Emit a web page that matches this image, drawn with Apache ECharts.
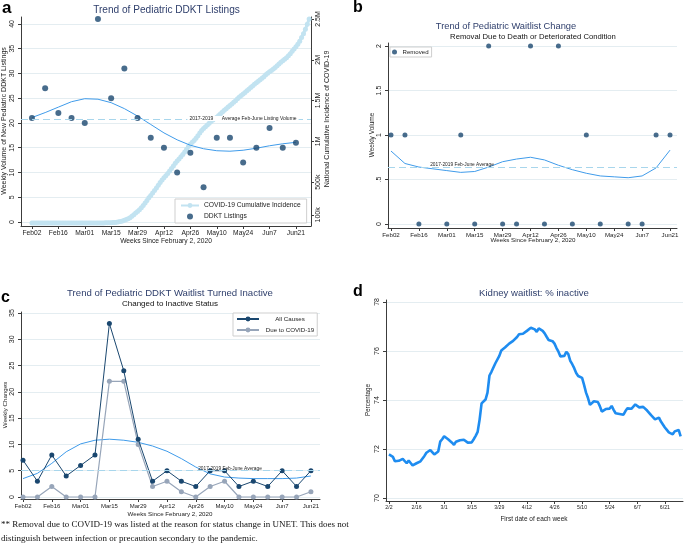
<!DOCTYPE html>
<html><head><meta charset="utf-8">
<script src="https://cdn.jsdelivr.net/npm/echarts@6.0.0/dist/echarts.min.js"></script>
<style>html,body{margin:0;padding:0;background:#fff}#c{width:684px;height:549px}</style>
</head><body><div id="c"></div>
<script>
// ---------- data ----------
const weeks = ['Feb02','Feb09','Feb16','Feb23','Mar01','Mar08','Mar15','Mar22','Mar29','Apr05','Apr12','Apr19','Apr26','May03','May10','May17','May24','May31','Jun7','Jun14','Jun21'];
const weekTicks = [0,2,4,6,8,10,12,14,16,18,20];

// panel a
const ddktListings = [21,27,22,21,20,41,25,31,21,17,15,10,14,7,17,17,12,15,19,15,16];
const ddktLowess = [21.1,22.1,23.2,24.3,24.9,24.8,24.1,22.9,21.4,19.7,18.0,16.6,15.5,14.8,14.4,14.3,14.5,14.9,15.4,15.8,16.1];
const ddktAvg = 20.8;
const ddktTicks = [0,5,10,15,20,25,30,35,40];
// daily national cumulative COVID-19 incidence (thousands), Feb 2 .. Jun 28
const covidCumK = [
 0.01,0.01,0.01,0.01,0.01,0.01,0.01,0.01,0.01,0.01,0.01,0.01,0.02,0.02,0.02,0.02,0.02,0.02,0.02,0.02,0.02,0.02,0.05,0.05,0.05,0.06,0.06,0.06,
 0.07,0.1,0.12,0.15,0.22,0.32,0.43,0.54,0.7,0.96,1.3,1.66,2.2,2.95,3.5,4.6,6.4,9.4,14,19.6,25.6,34,43,53,65,83,101,121,140,161,188,
 214,244,276,309,337,367,397,429,463,496,527,555,580,607,636,667,699,732,759,785,811,840,869,905,938,965,988,1012,1039,1069,
 1103,1133,1158,1180,1201,1222,1243,1262,1280,1297,1316,1338,1359,1381,1400,1421,1440,1458,1478,1499,1521,1543,1563,1582,1600,1619,1639,1660,1680,1700,1718,
 1736,1754,1773,1793,1815,1835,1852,1868,1886,1906,1927,1949,1970,1988,2005,2026,2049,2075,2104,2133,2160,2190,2228,2272,2320,2374,2435,2500];
const covidTicksK = [100,500,1000,1500,2000,2500];
const covidTickLabels = ['100k','500k','1M','1.5M','2M','2.5M'];

// panel b
const removed = [1,1,0,null,0,1,0,2,0,0,2,0,2,0,1,0,null,0,0,1,1];
const removedLowess = [0.82,0.68,0.64,0.62,0.60,0.58,0.59,0.64,0.70,0.73,0.75,0.72,0.66,0.61,0.57,0.54,0.53,0.52,0.54,0.63,0.83];
const removedAvg = 0.635;
const removedTicks = [0,0.5,1,1.5,2];
const removedTickLabels = ['0','.5','1','1.5','2'];

// panel c
const inactiveAll = [7,3,8,4,6,8,33,24,11,3,5,3,2,5,5,2,3,2,5,2,5];
const inactiveCovid = [0,0,2,0,0,0,22,22,10,2,3,1,0,2,3,0,0,0,0,0,1];
const inactiveLowess = [3.5,4.5,6.4,8.6,10.1,10.8,11.0,10.8,10.4,9.7,8.7,7.3,5.7,4.4,3.8,3.6,3.5,3.5,3.5,3.6,4.0];
const inactiveAvg = 5;
const inactiveTicks = [0,5,10,15,20,25,30,35];

// panel d (daily from 2/2)
const kidneyDayTicks = [0,14,28,42,56,70,84,98,112,126,140];
const kidneyDayLabels = ['2/2','2/16','3/1','3/15','3/29','4/12','4/26','5/10','5/24','6/7','6/21'];
const kidneyInactivePct = [
 71.78,71.70,71.68,71.50,71.56,71.52,71.56,71.60,71.52,71.42,
 71.53,71.45,71.33,71.29,71.42,71.46,71.50,71.55,71.72,71.85,
 71.90,71.96,71.90,71.78,71.80,71.90,72.30,72.40,72.52,72.48,
 72.40,72.38,72.26,72.17,72.30,72.38,72.36,72.44,72.38,72.36,
 72.26,72.24,72.27,72.40,72.54,72.70,73.20,73.86,73.90,74.02,
 74.30,75.00,75.15,75.19,75.50,75.53,75.80,76.02,76.10,76.15,
 76.22,76.30,76.38,76.41,76.44,76.57,76.68,76.71,76.70,76.74,
 76.82,76.88,76.95,76.97,76.88,76.78,76.92,76.95,76.82,76.72,
 76.58,76.45,76.41,76.40,76.30,76.12,75.97,75.78,75.71,75.80,
 75.97,75.87,75.60,75.46,75.30,75.10,74.98,75.00,74.90,74.62,
 74.30,74.08,73.80,73.82,73.95,74.02,73.92,73.75,73.53,73.58,
 73.63,73.70,73.65,73.76,73.60,73.46,73.43,73.43,73.42,73.40,
 73.55,73.66,73.60,73.64,73.73,73.82,73.80,73.70,73.72,73.72,
 73.66,73.57,73.50,73.38,73.30,73.21,73.18,73.28,73.12,73.00,
 72.88,72.78,72.68,72.70,72.60,72.72,72.80,72.78,72.52];
const kidneyTicks = [70,72,74,76,78];

// ---------- styles ----------
const FONT = '"Liberation Sans", Arial, sans-serif';
const SERIF = '"Liberation Serif", "DejaVu Serif", serif';
const AX = '#3c3c3c';
const GRIDC = '#e4edf1';
const NAVY = '#1a476f';
const LOW = '#3f9bea';
const AVGC = '#a8d6ec';
const GRAYB = '#97a5b9';
const TITLEC = '#2f3f6c';
const COVIDC = '#c2e3f1';

function xAx(grid, min, max, step, ticks, labels, fs, margin){
  return {gridIndex:grid, type:'value', min, max, minInterval:step, maxInterval:step,
    axisLine:{show:true, onZero:false, lineStyle:{color:AX,width:1}},
    axisTick:{show:true, length:3, lineStyle:{color:AX}, customValues:ticks},
    axisLabel:{customValues:ticks, fontSize:fs, color:'#222', fontFamily:FONT, margin:margin, hideOverlap:false,
      formatter: v => { const i = ticks.findIndex(t => Math.abs(t - v) < 1e-6); return i >= 0 ? labels[i] : ''; }},
    splitLine:{show:false}};
}
function yAx(grid, min, max, step, ticks, labels, fs, margin, split, pos){
  return {gridIndex:grid, type:'value', min, max, minInterval:step, maxInterval:step, position:pos||'left',
    axisLine:{show:true, onZero:false, lineStyle:{color:AX,width:1}},
    axisTick:{show:true, length:3, lineStyle:{color:AX}, customValues:ticks},
    axisLabel:{customValues:ticks, rotate:90, fontSize:fs, color:'#222', fontFamily:FONT, margin:margin, hideOverlap:false,
      formatter: v => { const i = ticks.findIndex(t => Math.abs(t - v) < 1e-6); return i >= 0 ? labels[i] : ''; }},
    splitLine:{show:split, lineStyle:{color:GRIDC, width:1}}};
}
const wk = arr => arr.map((v,i) => v == null ? null : [i, v]).filter(p => p);

function txt(text, x, y, size, opt){
  opt = opt || {};
  return {type:'text', x, y, rotation: opt.rot ? Math.PI/2 : 0, z:100, silent:true,
    style:{text, fontSize:size, fontFamily:opt.font||FONT, fontWeight:opt.bold?'bold':'normal',
      fill:opt.color||'#222', align:opt.align||'center', verticalAlign:opt.valign||'middle',
      textAlign:opt.align||'center', textVerticalAlign:opt.valign||'middle',
      backgroundColor:opt.bg, padding:opt.bg?[0,2]:0}};
}

const chart = echarts.init(document.getElementById('c'), null, {renderer:'canvas'});
const avgLine = (val) => ({symbol:'none', silent:true, label:{show:false},
  lineStyle:{type:[7,4], color:AVGC, width:1}, data:[{yAxis:val}]});

const option = {
  animation:false,
  grid:[
    {left:21, top:17, width:290, height:209, containLabel:false, outerBoundsMode:'none'},
    {left:388, top:43, width:289, height:185, containLabel:false, outerBoundsMode:'none'},
    {left:21, top:312, width:299, height:187, containLabel:false, outerBoundsMode:'none'},
    {left:386, top:300, width:297, height:201, containLabel:false, outerBoundsMode:'none'}
  ],
  xAxis:[
    xAx(0, -0.83, 21.14, 2, weekTicks, weekTicks.map(i => weeks[i]), 6.7, 4),
    xAx(1, -0.215, 20.5, 2, weekTicks, weekTicks.map(i => weeks[i]), 6.2, 4),
    xAx(2, -0.14, 20.63, 2, weekTicks, weekTicks.map(i => weeks[i]), 6.0, 4),
    xAx(3, -1.5, 149.2, 14, kidneyDayTicks, kidneyDayLabels, 5.2, 4)
  ],
  yAxis:[
    yAx(0, -0.8, 41.4, 5, ddktTicks, ddktTicks.map(String), 7, 5, true),
    yAx(0, -36.8, 2524, 500, covidTicksK, covidTickLabels, 7, 4, false, 'right'),
    yAx(1, -0.045, 2.034, 0.5, removedTicks, removedTickLabels, 7, 5, true),
    yAx(2, -0.38, 35.19, 5, inactiveTicks, inactiveTicks.map(String), 7, 5, true),
    yAx(3, 69.88, 78.08, 2, kidneyTicks, kidneyTicks.map(String), 7, 5, true)
  ],
  legend:[
    {left:175, top:199, orient:'vertical', data:['COVID-19 Cumulative Incidence','DDKT Listings'],
     itemWidth:18, itemHeight:6, itemGap:4, padding:[3,6,3,5], borderColor:'#cfcfcf', borderWidth:1,
     backgroundColor:'#fff', selectedMode:false, textStyle:{fontSize:6.7, color:'#222', fontFamily:FONT}},
    {left:390, top:47, orient:'vertical', data:['Removed'], itemWidth:6, itemHeight:5, itemGap:2,
     padding:[2,3,2,2], borderColor:'#cfcfcf', borderWidth:1, backgroundColor:'#fff', selectedMode:false,
     textStyle:{fontSize:6.1, color:'#222', fontFamily:FONT}},
    {left:233, top:313, orient:'vertical', data:['All Causes','Due to COVID-19'], itemWidth:22, itemHeight:6,
     itemGap:5, padding:[3,3,3,3], borderColor:'#cfcfcf', borderWidth:1, backgroundColor:'#fff', selectedMode:false,
     formatter: n => '{t|' + n + '}',
     textStyle:{fontSize:6.2, color:'#222', fontFamily:FONT, rich:{t:{width:52, align:'center', fontSize:6.2, fontFamily:FONT}}}}
  ],
  series:[
    // a
    {type:'line', name:'COVID-19 Cumulative Incidence', xAxisIndex:0, yAxisIndex:1,
     data: covidCumK.map((v,i) => [i/7, v]), symbol:'circle', symbolSize:5, showSymbol:true, showAllSymbol:true,
     itemStyle:{color:COVIDC}, lineStyle:{color:COVIDC, width:3}, clip:false, z:1, silent:true},
    {type:'line', name:'lowessA', xAxisIndex:0, yAxisIndex:0, data:wk(ddktLowess), symbol:'none',
     lineStyle:{color:LOW, width:1}, z:3, silent:true, markLine:avgLine(ddktAvg)},
    {type:'scatter', name:'DDKT Listings', xAxisIndex:0, yAxisIndex:0, data:wk(ddktListings), symbolSize:6,
     itemStyle:{color:NAVY}, clip:false, z:4, silent:true},
    // b
    {type:'line', name:'lowessB', xAxisIndex:1, yAxisIndex:2, data:wk(removedLowess), symbol:'none',
     lineStyle:{color:LOW, width:1}, z:3, silent:true, markLine:avgLine(removedAvg)},
    {type:'scatter', name:'Removed', xAxisIndex:1, yAxisIndex:2, data:wk(removed), symbolSize:5,
     itemStyle:{color:NAVY}, clip:false, z:4, silent:true},
    // c
    {type:'line', name:'lowessC', xAxisIndex:2, yAxisIndex:3, data:wk(inactiveLowess), symbol:'none',
     lineStyle:{color:LOW, width:1}, z:2, silent:true, markLine:avgLine(inactiveAvg)},
    {type:'line', name:'Due to COVID-19', xAxisIndex:2, yAxisIndex:3, data:wk(inactiveCovid), symbol:'circle',
     symbolSize:5, showAllSymbol:true, itemStyle:{color:GRAYB}, lineStyle:{color:GRAYB, width:1.2}, z:3, silent:true},
    {type:'line', name:'All Causes', xAxisIndex:2, yAxisIndex:3, data:wk(inactiveAll), symbol:'circle',
     symbolSize:5, showAllSymbol:true, itemStyle:{color:NAVY}, lineStyle:{color:NAVY, width:1}, z:4, silent:true},
    // d
    {type:'line', name:'kidney', xAxisIndex:3, yAxisIndex:4, data:kidneyInactivePct.map((v,i) => [i, v]),
     symbol:'none', lineStyle:{color:'#1e8cf0', width:2.6}, z:3, silent:true}
  ],
  graphic:[
    txt('a', 2, 0, 17, {bold:true, align:'left', valign:'top', color:'#000'}),
    txt('Trend of Pediatric DDKT Listings', 166.5, 10, 10.1, {color:TITLEC}),
    txt('Weekly Volume of New Pediatric DDKT Listings', 4.5, 121, 7, {rot:true}),
    txt('National Cumulative Incidence of COVID-19', 327, 119, 7, {rot:true}),
    txt('Weeks Since February 2, 2020', 166, 241, 6.7),
    txt('2017-2019      Average Feb-June Listing Volume', 243, 118.5, 5, {bg:'#fff'}),

    txt('b', 353, 0, 16, {bold:true, align:'left', valign:'top', color:'#000'}),
    txt('Trend of Pediatric Waitlist Change', 506, 26, 9.3, {color:TITLEC}),
    txt('Removal Due to Death or Deteriorated Condition', 533, 37, 7.7, {color:'#111'}),
    txt('Weekly Volume', 372, 135, 6.5, {rot:true}),
    txt('Weeks Since February 2, 2020', 533, 240, 6.2),
    txt('2017-2019 Feb-June Average', 462, 165, 4.8),

    txt('c', 1, 290, 16, {bold:true, align:'left', valign:'top', color:'#000'}),
    txt('Trend of Pediatric DDKT Waitlist Turned Inactive', 170, 293, 9.6, {color:TITLEC}),
    txt('Changed to Inactive Status', 170, 304, 8, {color:'#111'}),
    txt('Weekly Changes', 5, 405, 6.2, {rot:true}),
    txt('Weeks Since February 2, 2020', 170, 514, 6.2),
    txt('2017-2019 Feb-June Average', 230, 468.5, 4.8),

    txt('d', 353, 284, 16, {bold:true, align:'left', valign:'top', color:'#000'}),
    txt('Kidney waitlist: % inactive', 534, 293, 9.6, {color:TITLEC}),
    txt('Percentage', 368, 400, 6.3, {rot:true}),
    txt('First date of each week', 534, 519, 6.5),

    txt('** Removal due to COVID-19 was listed at the reason for status change in UNET. This does not', 1, 525, 9, {font:SERIF, align:'left', color:'#111'}),
    txt('distinguish between infection or precaution secondary to the pandemic.', 1, 539, 9, {font:SERIF, align:'left', color:'#111'})
  ]
};
chart.setOption(option);
</script>
</body></html>
